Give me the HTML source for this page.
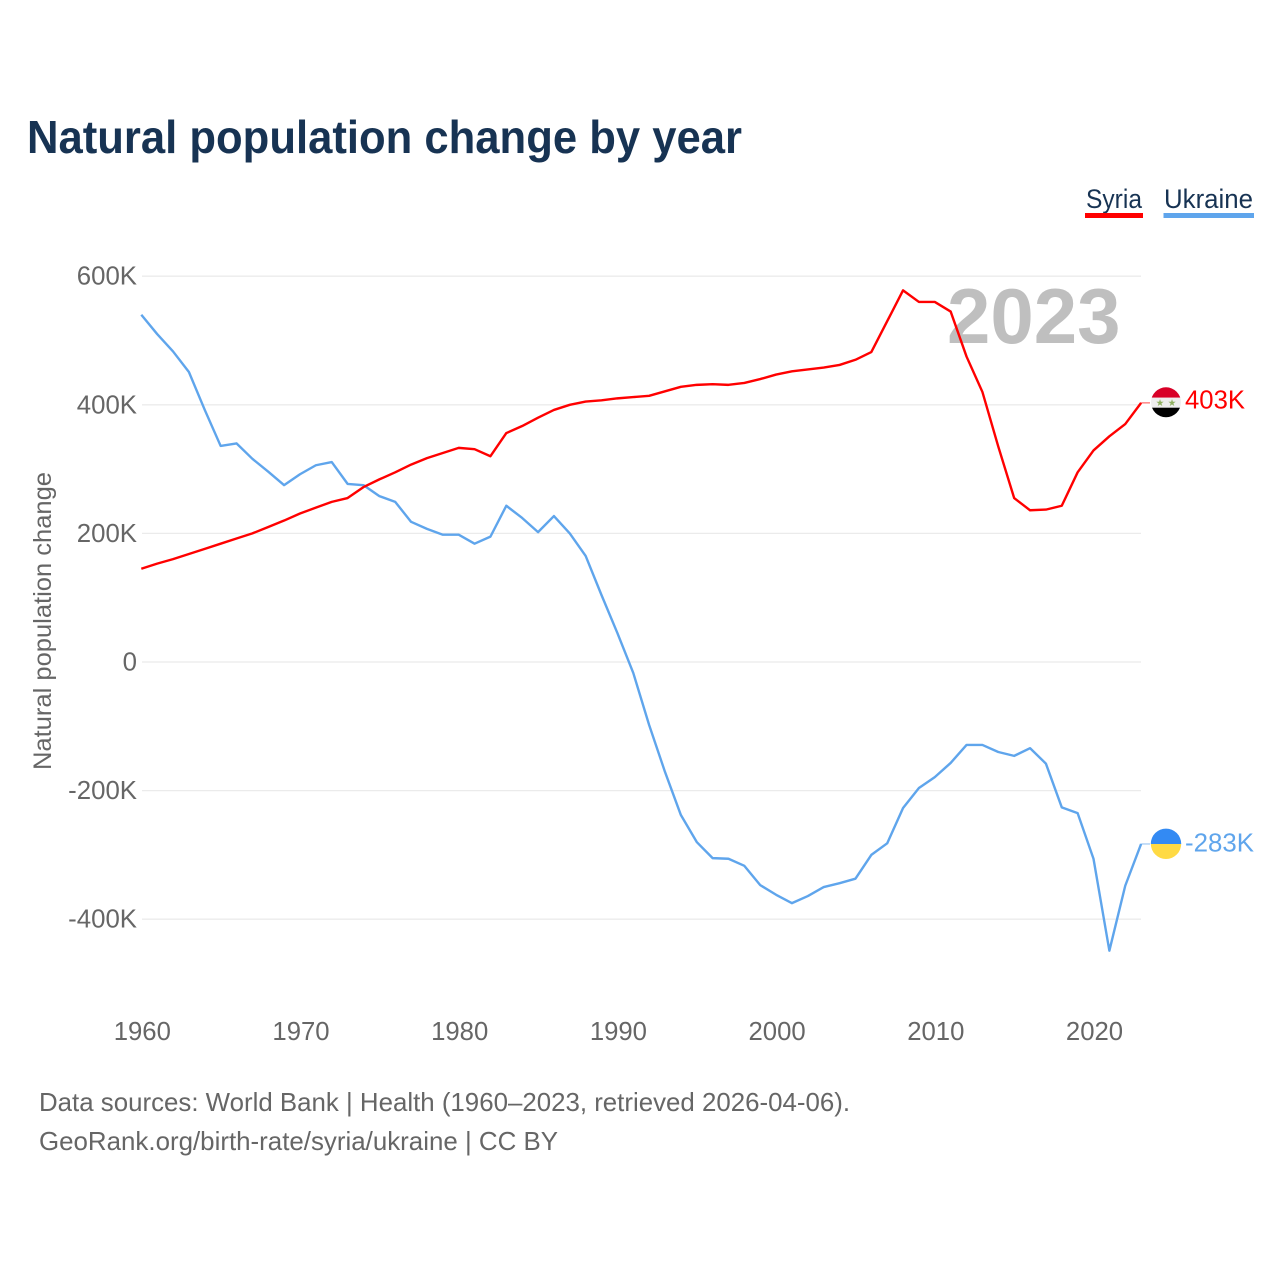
<!DOCTYPE html>
<html lang="en">
<head>
<meta charset="utf-8">
<title>Natural population change by year</title>
<style>
html,body{margin:0;padding:0;background:#fff;}
svg{display:block;font-family:"Liberation Sans",sans-serif;}
</style>
</head>
<body>
<svg id="chart" xmlns="http://www.w3.org/2000/svg" width="1280" height="1280" viewBox="0 0 1280 1280">
  <defs>
    <clipPath id="flag-clip-syria"><circle cx="1166" cy="402.3" r="15"/></clipPath>
    <clipPath id="flag-clip-ukraine"><circle cx="1166" cy="843.8" r="15.2"/></clipPath>
  </defs>
  <text x="27" y="153" font-size="46" font-weight="700" fill="#173353" textLength="715" lengthAdjust="spacingAndGlyphs">Natural population change by year</text>

  <g id="grid"></g>
  <g id="y-ticks"></g>
  <g id="x-ticks"></g>
  <text transform="translate(51 621) rotate(-90)" text-anchor="middle" font-size="25" fill="#666" textLength="298" lengthAdjust="spacingAndGlyphs">Natural population change</text>

  <text x="947" y="343" font-size="78" font-weight="700" fill="#bfbfbf">2023</text>
  <g id="series"></g>

  <g>
    <g>
      <text x="1086" y="208" font-size="27" fill="#173353" textLength="56" lengthAdjust="spacingAndGlyphs">Syria</text>
      <rect x="1085" y="213" width="58" height="5" fill="#ff0000"/>
    </g>
    <g>
      <text x="1164" y="208" font-size="27" fill="#173353" textLength="89" lengthAdjust="spacingAndGlyphs">Ukraine</text>
      <rect x="1163.5" y="213" width="90.5" height="5" fill="#5fa5ec"/>
    </g>
  </g>

  <g clip-path="url(#flag-clip-syria)">
    <rect x="1150" y="387" width="32" height="10.7" fill="#d80027"/>
    <rect x="1150" y="397.7" width="32" height="10" fill="#eeeeee"/>
    <rect x="1150" y="407.7" width="32" height="11" fill="#000000"/>
    <text x="1160" y="406" font-size="9.5" text-anchor="middle" fill="#8fb060" font-family="'DejaVu Sans',sans-serif">★</text>
    <text x="1172" y="406" font-size="9.5" text-anchor="middle" fill="#8fb060" font-family="'DejaVu Sans',sans-serif">★</text>
  </g>
  <g clip-path="url(#flag-clip-ukraine)">
    <rect x="1150" y="828" width="32" height="16" fill="#338af3"/>
    <rect x="1150" y="844" width="32" height="16" fill="#ffda44"/>
  </g>
  <text id="value-syria" x="1185" y="408.5" font-size="26" fill="#ff0000" textLength="60" lengthAdjust="spacingAndGlyphs"></text>
  <text id="value-ukraine" x="1185" y="851.5" font-size="26" fill="#5fa5ec" textLength="69" lengthAdjust="spacingAndGlyphs"></text>

  <text x="39" y="1111" font-size="26" fill="#666" textLength="811" lengthAdjust="spacingAndGlyphs">Data sources: World Bank | Health (1960–2023, retrieved 2026-04-06).</text>
  <text x="39" y="1150" font-size="26" fill="#666" textLength="519" lengthAdjust="spacingAndGlyphs">GeoRank.org/birth-rate/syria/ukraine | CC BY</text>
</svg>
<script>
var startYear = 1960;
var yTickValues = [600, 400, 200, 0, -200, -400];
var yTickLabels = ["600K", "400K", "200K", "0", "-200K", "-400K"];
var xTickYears = [1960, 1970, 1980, 1990, 2000, 2010, 2020];
var syriaValues = [145,153,160,168,176,184,192,200,210,220,231,240,249,255,272,284,295,307,317,325,333,331,320,356,367,380,392,400,405,407,410,412,414,421,428,431,432,431,434,440,447,452,455,458,462,470,482,530,578,560,560,545,475,420,335,255,236,237,243,295,329,351,370,403];
var ukraineValues = [540,510,483,451,392,336,340,316,296,275,292,306,311,277,275,258,249,218,207,198,198,184,195,243,224,202,227,200,165,104,45,-17,-98,-171,-238,-280,-305,-306,-317,-347,-362,-375,-364,-350,-344,-337,-300,-282,-227,-196,-179,-157,-129,-129,-140,-146,-134,-158,-226,-235,-306,-449,-348,-283];
var syriaEndLabel = "403K";
var ukraineEndLabel = "-283K";

var NS = "http://www.w3.org/2000/svg";
function xScale(year) { return 141.3 + (year - 1960) * 15.87; }
function yScale(v) { return 662 - v * 0.643; }

var grid = document.getElementById("grid");
var yTicks = document.getElementById("y-ticks");
var xTicks = document.getElementById("x-ticks");
var series = document.getElementById("series");

yTickValues.forEach(function (v, i) {
  var line = document.createElementNS(NS, "line");
  
  
  line.setAttribute("x1", 142);
  line.setAttribute("x2", 1141);
  line.setAttribute("y1", yScale(v));
  line.setAttribute("y2", yScale(v));
  line.setAttribute("stroke", "#ebebeb");
  line.setAttribute("stroke-width", 1.3);
  grid.appendChild(line);

  var t = document.createElementNS(NS, "text");
  
  
  t.setAttribute("x", 137);
  t.setAttribute("y", yScale(v) + 8.5);
  t.setAttribute("text-anchor", "end");
  t.setAttribute("font-size", 25.8);
  t.setAttribute("fill", "#666");
  t.textContent = yTickLabels[i];
  yTicks.appendChild(t);
});

xTickYears.forEach(function (yr) {
  var t = document.createElementNS(NS, "text");
  
  
  t.setAttribute("x", xScale(yr) + 1);
  t.setAttribute("y", 1040);
  t.setAttribute("text-anchor", "middle");
  t.setAttribute("font-size", 25.7);
  t.setAttribute("fill", "#666");
  t.textContent = String(yr);
  xTicks.appendChild(t);
});

function pathFor(values) {
  return values.map(function (v, i) {
    return (i ? "L" : "M") + xScale(startYear + i).toFixed(2) + " " + yScale(v).toFixed(2);
  }).join(" ");
}

var lastYear = startYear + ukraineValues.length - 1;

var ukraineLine = document.createElementNS(NS, "path");


ukraineLine.setAttribute("d", pathFor(ukraineValues));
ukraineLine.setAttribute("fill", "none");
ukraineLine.setAttribute("stroke", "#5fa5ec");
ukraineLine.setAttribute("stroke-width", 2.4);
ukraineLine.setAttribute("stroke-linejoin", "round");
series.appendChild(ukraineLine);

var syriaLine = document.createElementNS(NS, "path");


syriaLine.setAttribute("d", pathFor(syriaValues));
syriaLine.setAttribute("fill", "none");
syriaLine.setAttribute("stroke", "#ff0000");
syriaLine.setAttribute("stroke-width", 2.4);
syriaLine.setAttribute("stroke-linejoin", "round");
series.appendChild(syriaLine);

var syriaLeader = document.createElementNS(NS, "line");


syriaLeader.setAttribute("x1", xScale(lastYear));
syriaLeader.setAttribute("x2", 1150);
syriaLeader.setAttribute("y1", yScale(syriaValues[syriaValues.length - 1]));
syriaLeader.setAttribute("y2", yScale(syriaValues[syriaValues.length - 1]));
syriaLeader.setAttribute("stroke", "#ff0000");
syriaLeader.setAttribute("stroke-opacity", 0.6);
syriaLeader.setAttribute("stroke-width", 1.2);
series.appendChild(syriaLeader);

var ukraineLeader = document.createElementNS(NS, "line");


ukraineLeader.setAttribute("x1", xScale(lastYear));
ukraineLeader.setAttribute("x2", 1150);
ukraineLeader.setAttribute("y1", yScale(ukraineValues[ukraineValues.length - 1]));
ukraineLeader.setAttribute("y2", yScale(ukraineValues[ukraineValues.length - 1]));
ukraineLeader.setAttribute("stroke", "#5fa5ec");
ukraineLeader.setAttribute("stroke-opacity", 0.6);
ukraineLeader.setAttribute("stroke-width", 1.2);
series.appendChild(ukraineLeader);

document.getElementById("value-syria").textContent = syriaEndLabel;
document.getElementById("value-ukraine").textContent = ukraineEndLabel;
</script>
</body>
</html>
